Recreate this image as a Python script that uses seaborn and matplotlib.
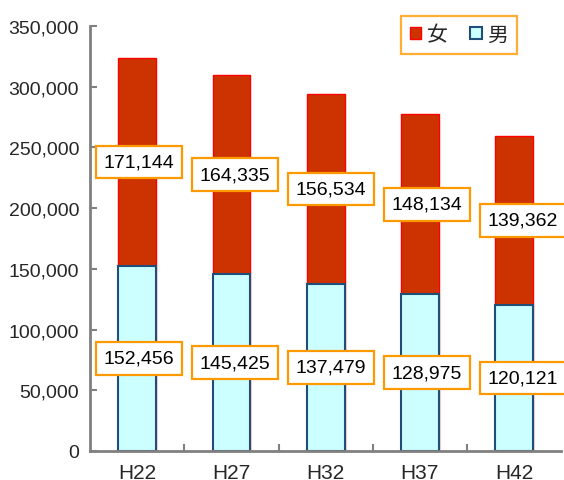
import numpy as np
import pandas as pd
import seaborn as sns
import matplotlib.pyplot as plt
from matplotlib.patches import Patch
from matplotlib.ticker import FuncFormatter, FixedLocator

# data
years = ['H22', 'H27', 'H32', 'H37', 'H42']
female = [171144, 164335, 156534, 148134, 139362]
male = [152456, 145425, 137479, 128975, 120121]

df = pd.DataFrame({'year': years, 'female': female, 'male': male})
df['total'] = df.female + df.male

sns.set_theme(style='white')
plt.rcParams['font.family'] = ['Liberation Sans', 'Noto Sans CJK JP', 'DejaVu Sans']

red = '#CC3300'
cyan = '#CCFFFF'
navy = '#1F4E79'
orange = '#FF9900'
grey = '#808080'

fig = plt.figure(figsize=(5.64, 4.81), dpi=100)
ax = fig.add_axes([0.160, 0.0603, 0.835, 0.884])

# stacked: total in red underneath, male drawn on top
sns.barplot(data=df, x='year', y='total', color=red, width=0.4,
            edgecolor='#FF0000', linewidth=1.0, saturation=1, ax=ax)
sns.barplot(data=df, x='year', y='male', color=cyan, width=0.4,
            edgecolor=navy, linewidth=1.5, saturation=1, ax=ax)

for i, row in df.iterrows():
    for val, ypos in [(row.female, row.male + row.female / 2),
                      (row.male, row.male / 2)]:
        ax.annotate(f'{val:,}', (i, ypos), xytext=(1 + 1.3 * i, 0),
                    textcoords='offset points', ha='center', va='center',
                    fontsize=14, color='black',
                    bbox=dict(boxstyle='square,pad=0.4', facecolor='white',
                              edgecolor=orange, linewidth=1.6))

ax.set_ylim(0, 350000)
ax.set_xlim(-0.5, 4.5)
ax.set_yticks(np.arange(0, 350001, 50000))
ax.yaxis.set_major_formatter(FuncFormatter(lambda v, p: f'{v:,.0f}'))
ax.xaxis.set_minor_locator(FixedLocator([0.5, 1.5, 2.5, 3.5]))
ax.tick_params(axis='y', direction='in', length=5, width=1.5, color=grey,
               labelsize=14, pad=8, left=True)
ax.tick_params(axis='x', which='major', length=0, labelsize=15, pad=9)
ax.tick_params(axis='x', which='minor', direction='in', length=5, width=1.5,
               color=grey, bottom=True)
ax.set_xlabel('')
ax.set_ylabel('')

sns.despine(ax=ax)
for s in ['left', 'bottom']:
    ax.spines[s].set_color(grey)
    ax.spines[s].set_linewidth(2)

handles = [Patch(facecolor=red, edgecolor='#FF0000', label='女'),
           Patch(facecolor=cyan, edgecolor=navy, linewidth=1.5, label='男')]
leg = ax.legend(handles=handles, loc='upper right', bbox_to_anchor=(0.907, 1.0235),
                ncol=2, fontsize=15, frameon=True, fancybox=False,
                handlelength=0.55, handleheight=0.55, handletextpad=0.25,
                columnspacing=1.1, borderpad=0.45, borderaxespad=0)
leg.get_frame().set_edgecolor(orange)
leg.get_frame().set_linewidth(1.6)

fig.savefig('out.png', dpi=100)
